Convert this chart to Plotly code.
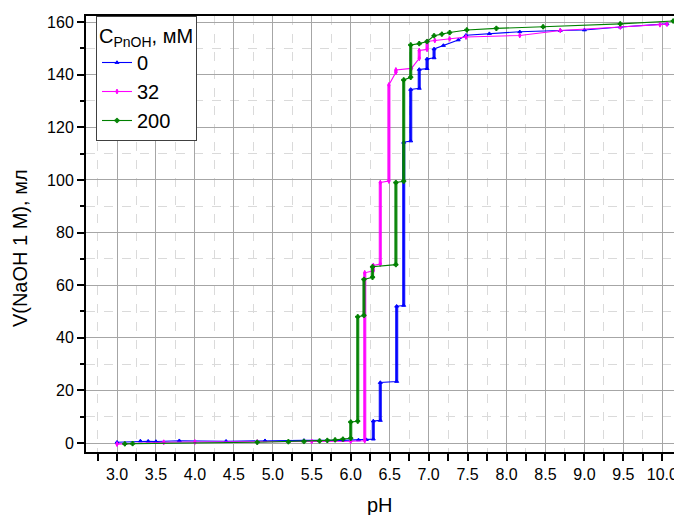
import plotly.graph_objects as go

# Titration curves: added volume of 1 M NaOH vs. pH for three PnOH concentrations
ph_0 = [3.00, 3.30, 3.40, 3.50, 3.80, 4.40, 4.90, 5.40, 5.90, 6.10, 6.20, 6.29, 6.29,
        6.38, 6.38, 6.59, 6.59, 6.68, 6.68, 6.77, 6.77, 6.88, 6.88, 6.98, 6.98, 7.07,
        7.07, 7.19, 7.38, 7.48, 7.78, 8.17, 8.69, 9.00, 9.46, 10.06]
v_0 = [0.3, 0.8, 0.7, 0.6, 0.9, 0.7, 0.9, 1.0, 1.0, 1.2, 1.3, 1.5, 8.4,
       8.6, 23.0, 23.4, 52.0, 52.3, 114.3, 114.8, 134.4, 134.8, 142.0, 142.3, 146.0, 146.4,
       149.8, 151.1, 153.2, 155.0, 155.6, 156.3, 156.8, 157.0, 158.1, 159.3]

ph_32 = [3.00, 3.60, 4.00, 4.80, 5.50, 6.00, 6.18, 6.18, 6.29, 6.29, 6.38, 6.38, 6.49,
         6.49, 6.58, 6.58, 6.78, 6.88, 6.88, 6.98, 6.98, 7.08, 7.27, 7.48, 8.17, 8.69,
         9.46, 9.97, 10.06]
v_32 = [-0.4, 0.3, 0.4, 0.4, 0.6, 0.7, 0.9, 64.7, 65.5, 67.5, 68.0, 99.0, 99.6,
        136.1, 140.9, 141.8, 142.4, 146.2, 149.2, 149.6, 152.6, 153.0, 153.6, 154.3, 154.9, 156.8,
        158.1, 159.0, 159.2]

ph_200 = [3.10, 3.20, 4.80, 5.20, 5.40, 5.60, 5.70, 5.80, 5.90, 6.00, 6.00, 6.09, 6.09,
          6.17, 6.17, 6.28, 6.28, 6.58, 6.58, 6.68, 6.68, 6.77, 6.77, 6.88, 6.98, 7.07,
          7.17, 7.27, 7.49, 7.87, 8.47, 9.46, 10.14]
v_200 = [-0.3, -0.2, 0.3, 0.5, 0.6, 0.8, 1.0, 1.2, 1.5, 1.8, 8.0, 8.3, 48.0,
         48.5, 62.2, 63.0, 67.0, 67.8, 99.0, 99.5, 138.0, 139.0, 151.3, 151.8, 152.6, 154.8,
         155.4, 156.0, 157.0, 157.6, 158.2, 159.3, 160.4]

series_names = ["0", "32", "200"]
series_colors = ["#0000ff", "#ff00ff", "#008000"]
series_symbols = ["triangle-up", "diamond-tall", "cross"]
series_data = [(ph_0, v_0), (ph_32, v_32), (ph_200, v_200)]

x_tick_vals = [3.0, 3.5, 4.0, 4.5, 5.0, 5.5, 6.0, 6.5, 7.0, 7.5, 8.0, 8.5, 9.0, 9.5, 10.0]
x_tick_text = ["3.0", "3.5", "4.0", "4.5", "5.0", "5.5", "6.0", "6.5", "7.0", "7.5",
               "8.0", "8.5", "9.0", "9.5", "10.0"]
y_tick_vals = [0, 20, 40, 60, 80, 100, 120, 140, 160]

FONT = "Arial, Liberation Sans, sans-serif"

fig = go.Figure()


def vertical_runs(xs, ys):
    """Segments where the volume rises at a constant pH reading."""
    vx, vy = [], []
    for i in range(len(xs) - 1):
        if xs[i] == xs[i + 1]:
            vx += [xs[i], xs[i + 1], None]
            vy += [ys[i], ys[i + 1], None]
    return vx, vy


for name, color, symbol, (xs, ys) in zip(series_names, series_colors, series_symbols, series_data):
    vx, vy = vertical_runs(xs, ys)
    fig.add_trace(go.Scatter(
        x=vx, y=vy, mode="lines", showlegend=False, hoverinfo="skip",
        line=dict(color=color, width=3.2), opacity=0.85,
    ))
    fig.add_trace(go.Scatter(
        x=xs, y=ys, mode="lines+markers", name=name,
        line=dict(color=color, width=1.1),
        marker=dict(symbol=symbol, size=3.5, color=color,
                    line=dict(width=1, color=color)),
    ))

axis_font = dict(family=FONT, size=16, color="#000000")

fig.update_xaxes(
    range=[2.602, 10.15],
    tickmode="array", tickvals=x_tick_vals, ticktext=x_tick_text,
    ticks="outside", ticklen=7, tickwidth=1.5, tickcolor="#000000",
    tickfont=axis_font, ticklabeloverflow="allow",
    showline=True, linecolor="#000000", linewidth=2, mirror=True,
    showgrid=True, gridcolor="#a6a6a6", gridwidth=1,
    minor=dict(dtick=0.25, tick0=2.75, ticks="outside", ticklen=7, tickwidth=1.5,
               tickcolor="#000000", showgrid=True, gridcolor="#dadada",
               griddash="dash", gridwidth=1),
    zeroline=False, automargin=False,
)
fig.update_yaxes(
    range=[-3.4, 162.3],
    tickmode="array", tickvals=y_tick_vals,
    ticks="outside", ticklen=7, tickwidth=1.5, tickcolor="#000000",
    tickfont=axis_font,
    showline=True, linecolor="#000000", linewidth=2, mirror=False,
    showgrid=True, gridcolor="#a6a6a6", gridwidth=1,
    minor=dict(dtick=10, tick0=0, ticks="outside", ticklen=4, tickwidth=1.5,
               tickcolor="#000000", showgrid=True, gridcolor="#dadada",
               griddash="dash", gridwidth=1),
    zeroline=False, automargin=False,
)

fig.add_annotation(
    text="V(NaOH 1 M), мл", textangle=-90,
    xref="paper", yref="paper", x=-0.112, y=0.468,
    xanchor="center", yanchor="middle", showarrow=False,
    font=dict(family=FONT, size=20, color="#000000"),
)
fig.add_annotation(
    text="pH", xref="paper", yref="paper", x=0.5, y=-0.122,
    xanchor="center", yanchor="middle", showarrow=False,
    font=dict(family=FONT, size=20, color="#000000"),
)

fig.update_layout(
    width=674, height=515,
    margin=dict(l=86, r=0, t=16, b=63),
    paper_bgcolor="#ffffff", plot_bgcolor="#ffffff",
    font=dict(family=FONT, color="#000000"),
    legend=dict(
        title=dict(text="C<sub>PnOH</sub>, мМ", font=dict(family=FONT, size=20)),
        font=dict(family=FONT, size=20, color="#000000"),
        x=0.017, y=1, xanchor="left", yanchor="top",
        bgcolor="#ffffff", bordercolor="#404040", borderwidth=1,
        tracegroupgap=0,
    ),
)

fig.write_html("out.html")
